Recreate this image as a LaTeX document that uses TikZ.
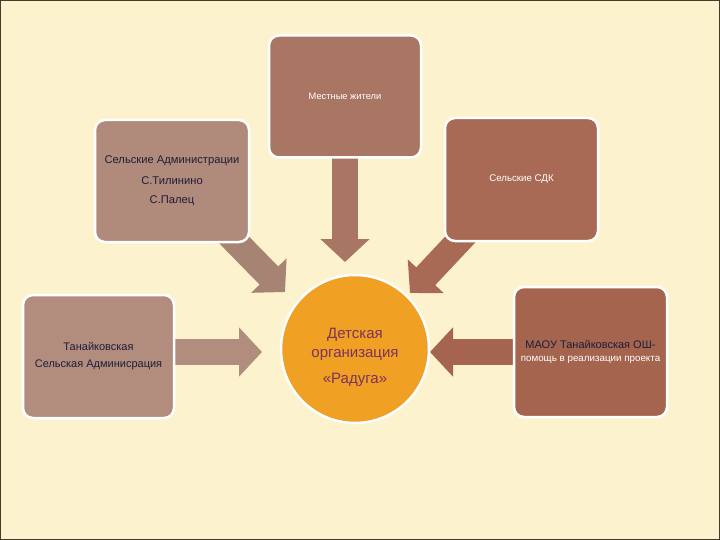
\documentclass[tikz,border=0pt]{standalone}
\usepackage{fontspec}
\setmainfont{Liberation Sans}
\usetikzlibrary{arrows.meta,backgrounds}

\definecolor{fon}{RGB}{252,242,205}
\definecolor{ramka}{RGB}{70,58,40}
\definecolor{korich}{RGB}{170,118,100}
\definecolor{bezh}{RGB}{176,138,122}
\definecolor{ryzh}{RGB}{168,106,85}
\definecolor{svetl}{RGB}{178,140,125}
\definecolor{temn}{RGB}{164,100,78}
\definecolor{oranzh}{RGB}{240,160,34}
\definecolor{tekst}{RGB}{30,30,60}
\definecolor{lilov}{RGB}{125,50,95}

\tikzset{
	blok/.style={rectangle, rounded corners=10pt, draw=white, line width=2.5pt,
		minimum width=152pt, minimum height=122pt, align=center, inner sep=2pt},
	strelka/.style={line width=26pt, -{Triangle[length=23pt,width=48pt]}},
}

\begin{document}
\begin{tikzpicture}[x=1pt,y=-1pt]
		\useasboundingbox (0,0) rectangle (720,540);

		\node[blok, fill=korich, text=white, font=\fontsize{9.3}{11}\selectfont]
			(zhit) at (345,96.5) {Местные жители};
		\node[blok, fill=bezh, text=tekst, minimum width=154pt, font=\fontsize{11.2}{19}\selectfont]
			(adm) at (172,181) {Сельские Администрации\\[2pt]С.Тилинино\\С.Палец};
		\node[blok, fill=ryzh, text=white, minimum width=153pt, minimum height=123pt, font=\fontsize{9.7}{11}\selectfont]
			(sdk) at (521.5,179.5) {Сельские СДК};
		\node[blok, fill=svetl, text=tekst, minimum width=151pt, minimum height=123pt, font=\fontsize{11}{17}\selectfont]
			(tanaik) at (98.5,356.5) {Танайковская\\Сельская Админисрация};
		\node[blok, fill=temn, text=tekst, minimum width=153pt, minimum height=130pt, font=\fontsize{11}{12.5}\selectfont]
			(maou) at (590.5,352) {МАОУ Танайковская ОШ-\\{\color{white}\fontsize{9.8}{11}\selectfont помощь в реализации проекта}};

		\node[circle, fill=oranzh, draw=white, line width=2.5pt, minimum size=148pt,
			text=lilov, align=center, font=\fontsize{15}{19}\selectfont]
			(krug) at (355,349) {\rule{0pt}{27pt}Детская\\организация\\[7pt]«Радуга»};

		\coordinate (kzhit)   at (345,262);
		\coordinate (kadm)    at (285,292);
		\coordinate (ksdk)    at (410,293);
		\coordinate (ktanaik) at (262,352);
		\coordinate (kmaou)   at (430,352);

		\begin{pgfonlayer}{background}
			\fill[fon] (0,0) rectangle (720,540);
			\draw[ramka, line width=1pt] (0.5,0.5) rectangle (719.5,539.5);

			\draw[strelka, korich] ([yshift=6pt]zhit.south) -- (kzhit);
			\draw[strelka, bezh!95!black] ([shift={(-33,-20.5)}]adm.south east) -- (kadm);
			\draw[strelka, ryzh] ([shift={(28,-15)}]sdk.south west) -- (ksdk);
			\draw[strelka, svetl] ([shift={(-6,-4.5)}]tanaik.east) -- (ktanaik);
			\draw[strelka, temn] ([xshift=6pt]maou.west) -- (kmaou);
		\end{pgfonlayer}
	\end{tikzpicture}
\end{document}
